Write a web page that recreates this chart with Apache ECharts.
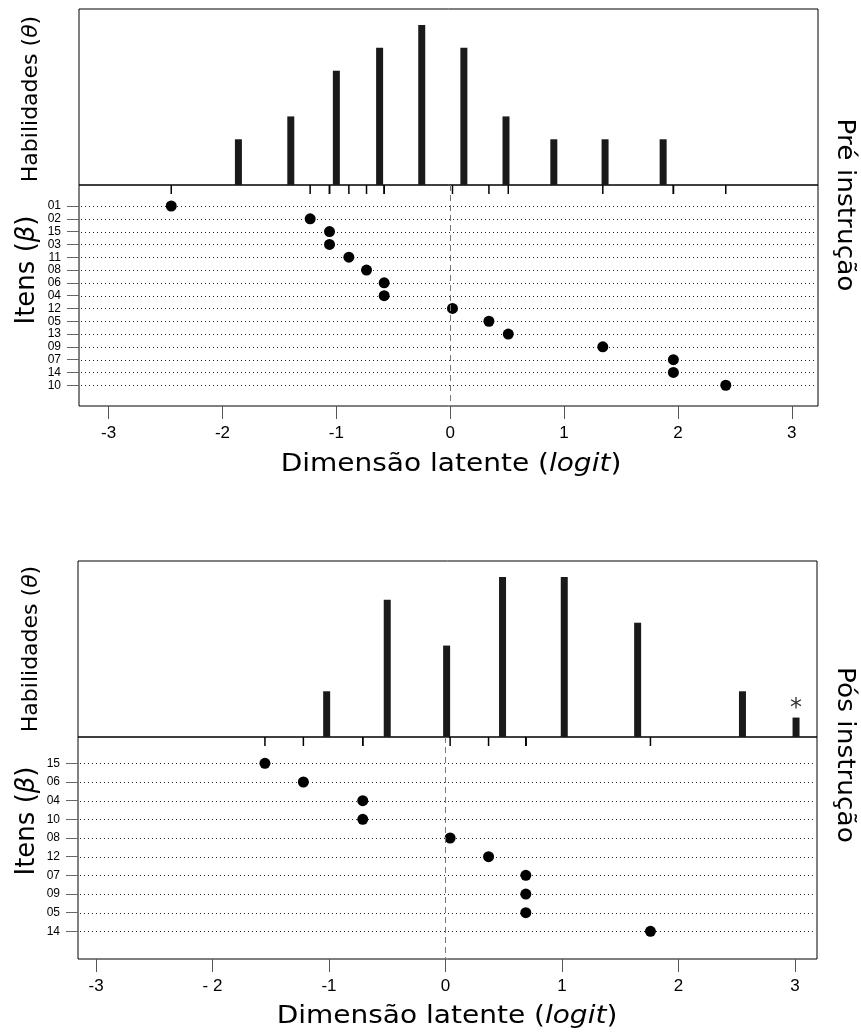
<!DOCTYPE html>
<html><head><meta charset="utf-8">
<script src="https://cdn.jsdelivr.net/npm/echarts@6/dist/echarts.min.js"></script>
<style>html,body{margin:0;padding:0;background:#fff}#c{width:861px;height:1034px}</style>
</head><body><div id="c"></div>
<script>
// ---- data ----
const xTicks = [-3, -2, -1, 0, 1, 2, 3];
const preTickLabels = ['-3', '-2', '-1', '0', '1', '2', '3'];
const posTickLabels = ['-3', '- 2', '-1', '0', '1', '2', '3'];

const preItems = ['01','02','15','03','11','08','06','04','12','05','13','09','07','14','10'];
const preBeta  = [-2.45,-1.23,-1.06,-1.06,-0.89,-0.735,-0.58,-0.58,0.02,0.34,0.51,1.34,1.96,1.96,2.42];
const preThetaX = [-1.86,-1.40,-1.00,-0.62,-0.25,0.12,0.49,0.91,1.36,1.87];
const preThetaN = [2,3,5,6,7,6,3,2,2,2];

const posItems = ['15','06','04','10','08','12','07','09','05','14'];
const posBeta  = [-1.55,-1.22,-0.71,-0.71,0.04,0.37,0.69,0.69,0.69,1.76];
const posThetaX = [-1.02,-0.50,0.01,0.49,1.02,1.65,2.55,3.01];
const posThetaN = [2,6,4,7,7,5,2,0.85];
const posThetaNote = ['','','','','','','','*'];

// ---- render helpers ----
function barItem(notes) {
  return function (params, api) {
    const x = api.value(0), n = api.value(1);
    const p0 = api.coord([x, 0]), p1 = api.coord([x, n]);
    const w = 7;
    const children = [{
      type: 'rect',
      shape: { x: p0[0] - w / 2, y: p1[1], width: w, height: p0[1] - p1[1] },
      style: { fill: '#1a1a1a' }
    }];
    const note = notes ? notes[params.dataIndex] : '';
    if (note) {
      children.push({
        type: 'text',
        style: { text: note, x: p0[0], y: p1[1] + 3, align: 'center', verticalAlign: 'bottom',
                 font: '24px "DejaVu Sans"', fill: '#333' }
      });
    }
    return { type: 'group', children: children };
  };
}
function rowLine(params, api) {
  const cs = params.coordSys;
  const y = Math.round(api.coord([0, api.value(1)])[1]) + 0.5;
  return { type: 'line', silent: true,
    shape: { x1: cs.x + 2, y1: y, x2: cs.x + cs.width - 4, y2: y },
    style: { stroke: '#222', lineWidth: 1, lineDash: [1, 3] } };
}
function rugItem(params, api) {
  const cs = params.coordSys;
  const x = api.coord([api.value(0), 0])[0];
  return { type: 'line', shape: { x1: x, y1: cs.y, x2: x, y2: cs.y + 9 },
    style: { stroke: '#000', lineWidth: 1.5 } };
}

const preRows = preItems.map((_, i) => i + 1);
const posRows = posItems.map((_, i) => i + 1);

const xRangePre = { min: -3.26, max: 3.23 };
const xRangePos = { min: -3.155, max: 3.19 };

function dotXAxis(gi, rng, labels) {
  return { gridIndex: gi, type: 'value', min: rng.min, max: rng.max, position: 'bottom',
    axisLine: { show: false, onZero: false }, splitLine: { show: false },
    axisTick: { show: true, length: 13, customValues: xTicks, lineStyle: { color: '#555', width: 1 } },
    axisLabel: { customValues: xTicks, formatter: v => labels[xTicks.indexOf(v)],
      fontSize: 17, fontFamily: 'Liberation Sans', color: '#000', margin: 19 } };
}
function dotYAxis(gi, rng, rows, items) {
  return { gridIndex: gi, type: 'value', inverse: true, min: rng.min, max: rng.max, position: 'left',
    axisLine: { show: false, onZero: false }, splitLine: { show: false },
    axisTick: { show: true, length: 12, customValues: rows, lineStyle: { color: '#666' } },
    axisLabel: { customValues: rows, formatter: v => items[v - 1],
      fontSize: 12, fontFamily: 'Liberation Sans', color: '#000', margin: 18 } };
}
const gridStyle = { show: true, borderColor: '#000', borderWidth: 1, backgroundColor: 'transparent' };

const zeroLine = { silent: true, symbol: ['none', 'none'], label: { show: false },
  lineStyle: { color: '#777', type: [6, 4], width: 1 }, data: [{ xAxis: 0 }] };

function rotText(text, x, y, size, rot, stretch) {
  return { type: 'text', x: x, y: y, rotation: rot, scaleX: stretch || 1,
    style: { text: text, align: 'center', verticalAlign: 'middle',
      font: size + 'px "DejaVu Sans"', fill: '#000',
      rich: { n: { fontSize: size, fontFamily: 'DejaVu Sans', fill: '#000' },
              i: { fontSize: size, fontFamily: 'DejaVu Sans', fontStyle: 'italic', fill: '#000' } } } };
}

const chart = echarts.init(document.getElementById('c'), null, { renderer: 'canvas' });
chart.setOption({
  animation: false,
  backgroundColor: '#fff',
  grid: [
    Object.assign({ left: 79, top: 9, width: 739, height: 176 }, gridStyle),
    Object.assign({ left: 79, top: 185, width: 739, height: 221 }, gridStyle),
    Object.assign({ left: 78, top: 561, width: 739, height: 176 }, gridStyle),
    Object.assign({ left: 78, top: 737, width: 739, height: 222 }, gridStyle)
  ],
  xAxis: [
    { gridIndex: 0, type: 'value', min: xRangePre.min, max: xRangePre.max, show: false },
    dotXAxis(1, xRangePre, preTickLabels),
    { gridIndex: 2, type: 'value', min: xRangePos.min, max: xRangePos.max, show: false },
    dotXAxis(3, xRangePos, posTickLabels)
  ],
  yAxis: [
    { gridIndex: 0, type: 'value', min: 0, max: 7.7, show: false },
    dotYAxis(1, { min: -0.64, max: 16.62 }, preRows, preItems),
    { gridIndex: 2, type: 'value', min: 0, max: 7.7, show: false },
    dotYAxis(3, { min: -0.41, max: 11.48 }, posRows, posItems)
  ],
  series: [
    { type: 'custom', xAxisIndex: 0, yAxisIndex: 0, renderItem: barItem(null),
      data: preThetaX.map((x, i) => [x, preThetaN[i]]) },
    { type: 'custom', xAxisIndex: 1, yAxisIndex: 1, renderItem: rowLine,
      data: preRows.map(r => [0, r]) },
    { type: 'custom', xAxisIndex: 1, yAxisIndex: 1, renderItem: rugItem,
      data: preBeta.map(b => [b, 0]) },
    { type: 'scatter', xAxisIndex: 1, yAxisIndex: 1, symbolSize: 11,
      itemStyle: { color: '#000', opacity: 1 }, data: preBeta.map((b, i) => [b, i + 1]), markLine: zeroLine },

    { type: 'custom', xAxisIndex: 2, yAxisIndex: 2, renderItem: barItem(posThetaNote),
      data: posThetaX.map((x, i) => [x, posThetaN[i]]) },
    { type: 'custom', xAxisIndex: 3, yAxisIndex: 3, renderItem: rowLine,
      data: posRows.map(r => [0, r]) },
    { type: 'custom', xAxisIndex: 3, yAxisIndex: 3, renderItem: rugItem,
      data: posBeta.map(b => [b, 0]) },
    { type: 'scatter', xAxisIndex: 3, yAxisIndex: 3, symbolSize: 11,
      itemStyle: { color: '#000', opacity: 1 }, data: posBeta.map((b, i) => [b, i + 1]), markLine: zeroLine }
  ],
  graphic: [
    rotText('{n|Habilidades (}{i|θ}{n|)}', 31, 99, 22, Math.PI / 2),
    rotText('{n|Itens (}{i|β}{n|)}', 27, 270, 26, Math.PI / 2),
    rotText('{n|Dimensão latente (}{i|logit}{n|)}', 451, 464, 25, 0, 1.12),
    rotText('Pré instrução', 844, 205, 24, -Math.PI / 2, 1.1),
    rotText('{n|Habilidades (}{i|θ}{n|)}', 31, 649, 22, Math.PI / 2),
    rotText('{n|Itens (}{i|β}{n|)}', 27, 821, 26, Math.PI / 2),
    rotText('{n|Dimensão latente (}{i|logit}{n|)}', 447, 1016, 25, 0, 1.12),
    rotText('Pós instrução', 844, 755, 24, -Math.PI / 2, 1.1)
  ]
});
</script>
</body></html>
